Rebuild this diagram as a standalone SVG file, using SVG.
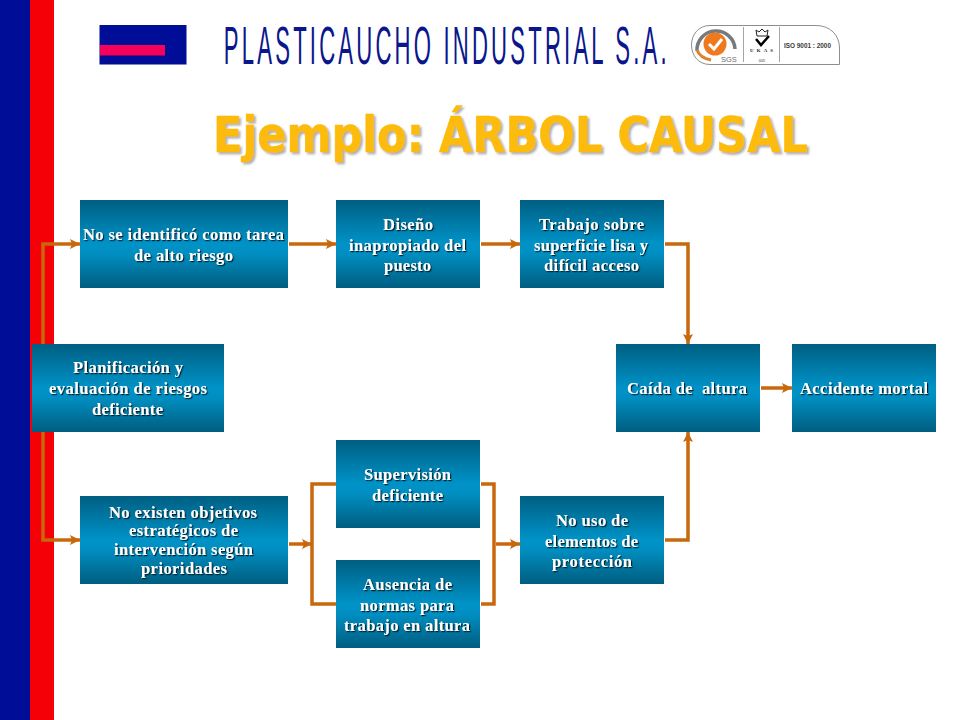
<svg xmlns="http://www.w3.org/2000/svg" width="960" height="720" viewBox="0 0 960 720">
<style>
.box{fill:url(#bx)}
.t{font-family:"Liberation Serif","Times New Roman",serif;font-weight:700;font-size:16.500px;fill:#fff;filter:url(#ts)}
.c{fill:none;stroke:#c8680c;stroke-width:3.500}
.a{marker-end:url(#ah)}
</style>
<defs>
<linearGradient id="bx" x1="0" y1="0" x2="0" y2="1">
<stop offset="0" stop-color="#005f83"/><stop offset=".5" stop-color="#0093c8"/><stop offset=".62" stop-color="#008dc0"/><stop offset="1" stop-color="#005d80"/>
</linearGradient>
<filter id="ts" x="-5%" y="-20%" width="110%" height="150%"><feDropShadow dx="1.200" dy="1.200" stdDeviation=".6" flood-color="#00202f" flood-opacity="1"/></filter>
<filter id="ss" x="-3%" y="-10%" width="106%" height="125%"><feDropShadow dx="2" dy="2" stdDeviation="1.200" flood-color="#999" flood-opacity=".8"/></filter>
<marker id="ah" markerUnits="userSpaceOnUse" markerWidth="11" markerHeight="12" refX="10" refY="6" orient="auto"><path d="M0 1L10 6L0 11L2 6Z" fill="#c8680c"/></marker>
</defs>
<rect width="960" height="720" fill="#fff"/>
<rect x="0" y="0" width="30" height="720" fill="#000d96"/>
<rect x="30" y="0" width="24" height="720" fill="#f50007"/>
<g id="logo">
<rect x="99.500" y="25" width="87" height="39.500" fill="#000d96"/>
<rect x="100" y="45" width="65" height="10.500" fill="#f5005a"/>
<text transform="scale(.41 1)" x="546" y="64" textLength="1080" font-family="'Liberation Sans',Arial,sans-serif" font-size="54" fill="#0a168c">PLASTICAUCHO INDUSTRIAL S.A.</text>
</g>
<g id="badge">
<path d="M710 25.500H816C830 25.500 839.500 35 839.500 48V64.500H710C698 64.500 691.500 55 691.500 45C691.500 34 699 25.500 710 25.500Z" fill="#fff" stroke="#8a8f92" stroke-width="1"/>
<path d="M743.500 27V62M779.500 27V62" stroke="#8a8f92" stroke-width=".8"/>
<path d="M697 51A18.500 18.500 0 1 1 735 49" fill="none" stroke="#77797c" stroke-width="3.500"/>
<path d="M697 50Q700 58 711 60" fill="none" stroke="#e0822a" stroke-width="3"/>
<circle cx="715" cy="44" r="11.500" fill="#ef7a1e"/>
<path d="M709 44L714 49L722 39" fill="none" stroke="#fff" stroke-width="3"/>
<text x="721" y="62" font-family="'Liberation Sans',Arial,sans-serif" font-size="7.500" fill="#6d6f72">SGS</text>
<path d="M757 36L756 30L759 32L762 29L765 32L768 30L767 36Z" fill="#fff" stroke="#222" stroke-width="1"/>
<path d="M756 39L761 45L769 36" fill="none" stroke="#000" stroke-width="2.500"/>
<text x="750" y="52" textLength="23" font-family="'Liberation Serif',serif" font-weight="700" font-size="4.800" fill="#222">UKAS</text>
<text x="762" y="61.500" text-anchor="middle" font-family="'Liberation Sans',sans-serif" font-size="3.800" fill="#333">005</text>
<text x="784" y="47.500" textLength="47" lengthAdjust="spacingAndGlyphs" font-family="'Liberation Sans',Arial,sans-serif" font-weight="700" font-size="6.500" fill="#3a3a3a">ISO 9001 : 2000</text>
</g>
<text id="title" x="213" y="152" textLength="595" lengthAdjust="spacingAndGlyphs" font-family="'DejaVu Sans',Verdana,sans-serif" font-weight="700" font-size="49" fill="#fdbb07" stroke="#fdbb07" stroke-width=".6" filter="url(#ss)">Ejemplo: ÁRBOL CAUSAL</text>
<g id="connectors">
<path class="c" d="M43 344V244"/>
<path class="c a" d="M41.300 244H80"/>
<path class="c" d="M43 432V540"/>
<path class="c a" d="M41.300 540H80"/>
<path class="c a" d="M289 244H336"/>
<path class="c a" d="M481 244H520"/>
<path class="c a" d="M665 244H688V344"/>
<path class="c a" d="M761 388H792"/>
<path class="c a" d="M665 540H688V432"/>
<path class="c a" d="M289 544H312"/>
<path class="c" d="M336 484H312V604H336"/>
<path class="c" d="M481 484H494V604H481"/>
<path class="c a" d="M496 544H520"/>
</g>
<g id="n1"><rect class="box" x="80" y="200" width="208" height="88"/><text class="t" x="83" y="240" textLength="201">No se identificó como tarea</text><text class="t" x="134" y="261" textLength="99">de alto riesgo</text></g>
<g id="n2"><rect class="box" x="336" y="200" width="144" height="88"/><text class="t" x="383" y="230" textLength="50">Diseño</text><text class="t" x="349" y="251" textLength="117">inapropiado del</text><text class="t" x="384" y="271" textLength="47">puesto</text></g>
<g id="n3"><rect class="box" x="520" y="200" width="144" height="88"/><text class="t" x="539" y="230" textLength="105">Trabajo sobre</text><text class="t" x="534" y="251" textLength="114">superficie lisa y</text><text class="t" x="544" y="271" textLength="95">difícil acceso</text></g>
<g id="n4"><rect class="box" x="32" y="344" width="192" height="88"/><text class="t" x="73" y="373" textLength="110">Planificación y</text><text class="t" x="49" y="394" textLength="158">evaluación de riesgos</text><text class="t" x="92" y="415" textLength="71">deficiente</text></g>
<g id="n5"><rect class="box" x="616" y="344" width="144" height="88"/><text class="t" x="627" y="394" textLength="120" xml:space="preserve">Caída de  altura</text></g>
<g id="n6"><rect class="box" x="792" y="344" width="144" height="88"/><text class="t" x="800" y="394" textLength="128">Accidente mortal</text></g>
<g id="n7"><rect class="box" x="80" y="496" width="208" height="88"/><text class="t" x="109" y="518" textLength="148">No existen objetivos</text><text class="t" x="129" y="536" textLength="109">estratégicos de</text><text class="t" x="114" y="555" textLength="139">intervención según</text><text class="t" x="141" y="574" textLength="86">prioridades</text></g>
<g id="n8"><rect class="box" x="336" y="440" width="144" height="88"/><text class="t" x="364" y="480" textLength="87">Supervisión</text><text class="t" x="372" y="501" textLength="71">deficiente</text></g>
<g id="n9"><rect class="box" x="336" y="560" width="144" height="88"/><text class="t" x="363" y="590" textLength="89">Ausencia de</text><text class="t" x="360" y="611" textLength="94">normas para</text><text class="t" x="344" y="631" textLength="126">trabajo en altura</text></g>
<g id="n10"><rect class="box" x="520" y="496" width="144" height="88"/><text class="t" x="556" y="526" textLength="72">No uso de</text><text class="t" x="545" y="547" textLength="93">elementos de</text><text class="t" x="552" y="567" textLength="80">protección</text></g>
</svg>
